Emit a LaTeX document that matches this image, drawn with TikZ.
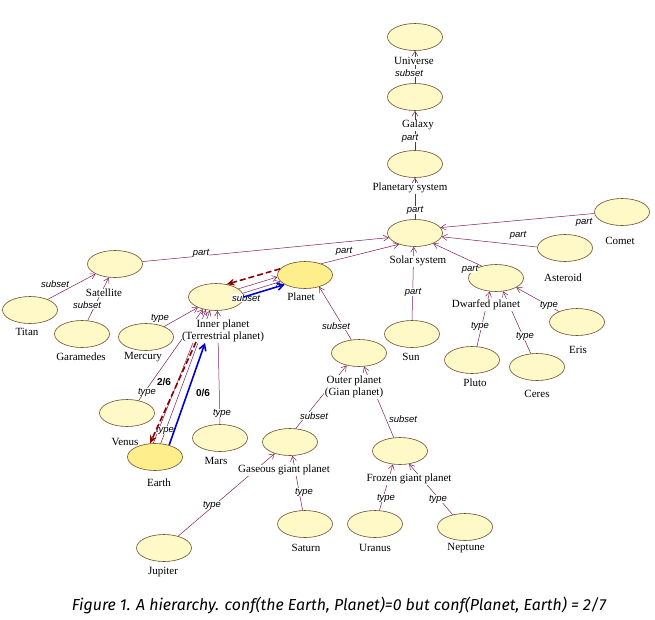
\documentclass[tikz,border=0pt]{standalone}
\usepackage{fontspec}
\usepackage{graphicx}
\setmainfont{Liberation Serif}
\newfontfamily\edgefont{Liberation Sans}
\newfontfamily\capfont{Fira Sans}
\usetikzlibrary{shapes.geometric,arrows.meta}
\definecolor{entfill}{RGB}{255,249,200}
\definecolor{hlfill}{RGB}{255,238,140}
\definecolor{entborder}{RGB}{110,80,50}
\definecolor{relcol}{RGB}{128,30,90}
\definecolor{dashred}{RGB}{140,0,0}
\definecolor{confblue}{RGB}{0,0,210}
\begin{document}
\begin{tikzpicture}[x=1pt,y=-1pt,
  ent/.style={ellipse,draw=entborder,fill=entfill,minimum width=55pt,minimum height=27pt,inner sep=0pt,line width=0.6pt},
  hl/.style={ent,fill=hlfill},
  rel/.style={draw=relcol,line width=0.5pt,-{Straight Barb[length=5pt,width=6pt]}},
  lbl/.style={font=\fontsize{11}{12.5}\selectfont,fill=white,inner sep=0.5pt,align=center},
  elbl/.style={font=\edgefont\itshape\fontsize{9.5}{10}\selectfont,fill=white,inner sep=0.3pt},
  conflbl/.style={font=\edgefont\bfseries\fontsize{10}{11}\selectfont,inner sep=0.5pt},
  redconf/.style={draw=dashred,line width=1.6pt,dash pattern=on 6pt off 3pt,-{Stealth[length=8pt,width=7pt]}},
  blueconf/.style={draw=confblue,line width=1.6pt,-{Straight Barb[length=6pt,width=7pt]}}
]
\fill[white] (0,0) rectangle (655,619);
\useasboundingbox (0,0) rectangle (655,619);

% entities
\node[ent] (universe) at (415,37) {};
\node[ent] (galaxy) at (415,97) {};
\node[ent] (psys) at (415,164) {};
\node[ent] (solar) at (415,233) {};
\node[ent] (comet) at (622,212) {};
\node[ent] (asteroid) at (565,248) {};
\node[ent] (dwarf) at (496,278) {};
\node[ent] (eris) at (577,322) {};
\node[ent] (pluto) at (472,360) {};
\node[ent] (ceres) at (537,367) {};
\node[ent] (sun) at (412,334) {};
\node[hl] (planet) at (305,275) {};
\node[ent] (sat) at (115,264) {};
\node[ent] (titan) at (30,310) {};
\node[ent] (gara) at (82,334) {};
\node[ent] (merc) at (146,337) {};
\node[ent] (inner) at (216,297) {};
\node[ent] (venus) at (127,413) {};
\node[hl] (earth) at (155,457) {};
\node[ent] (mars) at (220,438) {};
\node[ent] (outer) at (359,353) {};
\node[ent] (gas) at (290,442) {};
\node[ent] (frozen) at (400,451) {};
\node[ent] (uranus) at (375,524) {};
\node[ent] (neptune) at (465,527) {};
\node[ent] (saturn) at (305,524) {};
\node[ent] (jupiter) at (164,548) {};

% relations
\draw[rel] (galaxy.north) -- (universe.south);
\draw[rel] (psys.north) -- (galaxy.south);
\draw[rel] (solar.north) -- (psys.south);
\draw[rel] (comet.183) -- (solar.12);
\draw[rel] (asteroid.178) -- (solar.352);
\draw[rel] (dwarf.140) -- (solar.330);
\draw[rel] (sun.north) -- (solar.265);
\draw[rel] (planet.35) -- (solar.215);
\draw[rel] (sat.5) -- (solar.190);
\draw[rel] (titan.31) -- (sat.207);
\draw[rel] (gara.67) -- (sat.245);
\draw[rel] (merc.30) -- (inner.210);
\draw[rel] (venus.47) -- (inner.223);
\draw[rel] (earth.97) -- (inner.232);
\draw[rel] (earth.67) -- (inner.246);
\draw[rel] (mars.north) -- (inner.276);
\draw[rel] (inner.20) -- (planet.184);
\draw[rel] (inner.8) -- (planet.195);
\draw[rel] (outer.120) -- (planet.320);
\draw[rel] (gas.67) -- (outer.225);
\draw[rel] (frozen.115) -- (outer.290);
\draw[rel] (pluto.70) -- (dwarf.245);
\draw[rel] (ceres.115) -- (dwarf.298);
\draw[rel] (eris.150) -- (dwarf.335);
\draw[rel] (saturn.100) -- (gas.280);
\draw[rel] (jupiter.40) -- (gas.217);
\draw[rel] (uranus.72) -- (frozen.242);
\draw[rel] (neptune.135) -- (frozen.305);

% entity labels
\node[lbl] (universeL) at (414,61) {Universe};
\node[lbl] (galaxyL) at (418,125) {Galaxy};
\node[lbl] (psysL) at (410,188) {Planetary system};
\node[lbl] (solarL) at (418,261) {Solar system};
\node[lbl] (cometL) at (620,241) {Comet};
\node[lbl] (asteroidL) at (563,278) {Asteroid};
\node[lbl] (dwarfL) at (486,305) {Dwarfed planet};
\node[lbl] (erisL) at (578,350) {Eris};
\node[lbl] (plutoL) at (475,383) {Pluto};
\node[lbl] (ceresL) at (537,394) {Ceres};
\node[lbl] (sunL) at (411,357) {Sun};
\node[lbl] (planetL) at (301,297) {Planet};
\node[lbl] (satL) at (104,293) {Satellite};
\node[lbl] (titanL) at (27,332) {Titan};
\node[lbl] (garaL) at (81,357) {Garamedes};
\node[lbl] (mercL) at (143,357) {Mercury};
\node[lbl] (innerL) at (223,331) {Inner planet\\(Terrestrial planet)};
\node[lbl] (venusL) at (125,442) {Venus};
\node[lbl] (earthL) at (159,483) {Earth};
\node[lbl] (marsL) at (216,461) {Mars};
\node[lbl] (outerL) at (354,387) {Outer planet\\(Gian planet)};
\node[lbl] (gasL) at (284,470) {Gaseous giant planet};
\node[lbl] (frozenL) at (409,479) {Frozen giant planet};
\node[lbl] (uranusL) at (375,548) {Uranus};
\node[lbl] (neptuneL) at (466,548) {Neptune};
\node[lbl] (saturnL) at (306,548) {Saturn};
\node[lbl] (jupiterL) at (163,572) {Jupiter};

% relation labels
\node[elbl] (e1) at (409,73) {subset};
\node[elbl] (e2) at (410,138) {part};
\node[elbl] (e3) at (415,210) {part};
\node[elbl] (e4) at (584,222) {part};
\node[elbl] (e5) at (518,235) {part};
\node[elbl] (e6) at (470,269) {part};
\node[elbl] (e7) at (413,292) {part};
\node[elbl] (e8) at (344,251) {part};
\node[elbl] (e9) at (201,253) {part};
\node[elbl] (e10) at (55,284) {subset};
\node[elbl] (e11) at (87,305) {subset};
\node[elbl] (e12) at (160,318) {type};
\node[elbl] (e13) at (246,298) {subset};
\node[elbl] (e14) at (147,392) {type};
\node[elbl] (e15) at (165,430) {type};
\node[elbl] (e16) at (222,413) {type};
\node[elbl] (e17) at (336,326) {subset};
\node[elbl] (e18) at (314,416) {subset};
\node[elbl] (e19) at (403,419) {subset};
\node[elbl] (e20) at (480,326) {type};
\node[elbl] (e21) at (525,336) {type};
\node[elbl] (e22) at (549,305) {type};
\node[elbl] (e23) at (304,492) {type};
\node[elbl] (e24) at (212,505) {type};
\node[elbl] (e25) at (386,498) {type};
\node[elbl] (e26) at (438,499) {type};

% confidence arrows
\coordinate (redStart) at (196,342);
\coordinate (blueEnd) at (205,343);
\draw[redconf] (planet.166) -- (inner.50);
\draw[blueconf] (inner.0) -- (planet.205);
\draw[redconf] (redStart) -- (earth.110);
\draw[blueconf] (earth.40) -- (blueEnd);
\node[conflbl] (c26) at (164,382) {2/6};
\node[conflbl] (c06) at (203,393) {0/6};

% caption
\node[inner sep=0pt] (caption) at (339,605) {\resizebox{534pt}{!}{\capfont\itshape Figure 1. A hierarchy. conf(the Earth, Planet)=0 but conf(Planet, Earth) = 2/7}};
\end{tikzpicture}
\end{document}
